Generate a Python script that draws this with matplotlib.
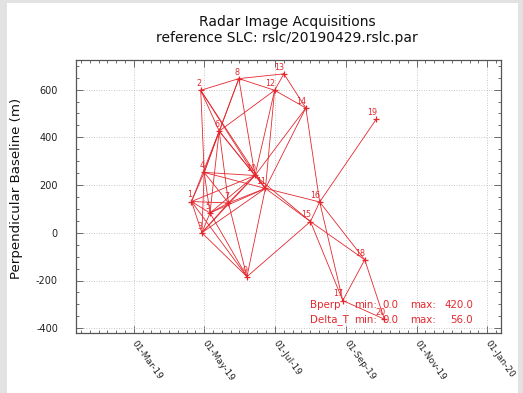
import matplotlib
matplotlib.use('Agg')
import matplotlib.pyplot as plt
import matplotlib.dates as mdates
from matplotlib.ticker import FixedLocator, MultipleLocator
from matplotlib.patches import Rectangle
import numpy as np

plt.rcParams['axes.unicode_minus'] = False

# ---- data ----
scene_ids = list(range(1, 21))
scene_dates = ['2019-04-20', '2019-04-28', '2019-04-29', '2019-05-01', '2019-05-06',
               '2019-05-14', '2019-05-22', '2019-05-31', '2019-06-07', '2019-06-14',
               '2019-06-23', '2019-07-01', '2019-07-09', '2019-07-28', '2019-08-01',
               '2019-08-09', '2019-08-29', '2019-09-17', '2019-09-27', '2019-10-04']
bperp = [131, 597, 0, 253, 83, 426, 125, 646, -184, 240,
         186, 597, 666, 523, 47, 129, -284, -113, 476, -362]
pairs = [(1, 3), (1, 4), (1, 5), (1, 6), (1, 7), (1, 9), (1, 10),
         (2, 4), (2, 6), (2, 8), (2, 10), (2, 11),
         (3, 4), (3, 5), (3, 7), (3, 9), (3, 10), (3, 11),
         (4, 5), (4, 6), (4, 7), (4, 8), (4, 10), (4, 11),
         (5, 6), (5, 7), (5, 9), (5, 10), (5, 11),
         (6, 7), (6, 8), (6, 10), (6, 11), (6, 12),
         (7, 9), (7, 10), (7, 11),
         (8, 10), (8, 12), (8, 13),
         (9, 11), (9, 15),
         (10, 11), (10, 12), (10, 14), (10, 15),
         (11, 12), (11, 14), (11, 15), (11, 16),
         (12, 13), (12, 14),
         (13, 14),
         (14, 16),
         (15, 16), (15, 17), (15, 18),
         (16, 17), (16, 18), (16, 19),
         (17, 18), (17, 20),
         (18, 20)]
xtick_dates = ['2019-03-01', '2019-05-01', '2019-07-01', '2019-09-01', '2019-11-01', '2020-01-01']
xtick_labels = ['01-Mar-19', '01-May-19', '01-Jul-19', '01-Sep-19', '01-Nov-19', '01-Jan-20']
yticks = [-400, -200, 0, 200, 400, 600]
xlim_dates = ['2019-01-10', '2020-01-13']
ylim = (-420, 724)
title_lines = ['Radar Image Acquisitions', 'reference SLC: rslc/20190429.rslc.par']
ylabel = 'Perpendicular Baseline (m)'
bperp_range = ('0.0', '420.0')
dt_range = ('0.0', '56.0')

RED = '#e4282e'
W, H = 523, 393

def num(d):
    return mdates.date2num(np.datetime64(d))

fig = plt.figure(figsize=(W / 100, H / 100), dpi=100, facecolor='#e2e2e2')
fig.patches.append(Rectangle((7 / W, 0), (518 - 7) / W, 1 - 3 / H,
                             transform=fig.transFigure, facecolor='white',
                             edgecolor='none', zorder=-5))

ax = fig.add_axes([76 / W, 1 - 333 / H, 425 / W, 273 / H])
ax.set_zorder(2)
ax.set_facecolor('white')

xs = [num(d) for d in scene_dates]
for i, j in pairs:
    ax.plot([xs[i - 1], xs[j - 1]], [bperp[i - 1], bperp[j - 1]],
            color=RED, lw=0.6, zorder=3)
ax.plot(xs, bperp, linestyle='none', marker='+', color=RED,
        markersize=4, mew=0.9, zorder=4)
for k, x, y in zip(scene_ids, xs, bperp):
    ax.annotate(str(k), (x, y), xytext=(0.5, 1.5), textcoords='offset points',
                ha='right', va='bottom', fontsize=5.8, color=RED, zorder=5)

xt = [num(d) for d in xtick_dates]
ax.set_xlim(num(xlim_dates[0]), num(xlim_dates[1]))
ax.set_ylim(*ylim)
ax.xaxis.set_major_locator(FixedLocator(xt))
ax.set_xticklabels(xtick_labels)
step = (xt[1] - xt[0]) / 8
minors = []
for a, b in zip(xt[:-1], xt[1:]):
    minors.extend(np.linspace(a, b, 9)[1:-1])
m = xt[0] - step
while m > ax.get_xlim()[0]:
    minors.append(m)
    m -= step
m = xt[-1] + step
while m < ax.get_xlim()[1]:
    minors.append(m)
    m += step
ax.xaxis.set_minor_locator(FixedLocator(minors))

ax.yaxis.set_major_locator(FixedLocator(yticks))
ax.yaxis.set_minor_locator(MultipleLocator(50))

ax.tick_params(which='both', direction='in', top=True, right=True,
               color='#555555', width=0.6)
ax.tick_params(which='major', length=5, labelsize=7, labelcolor='#222222')
ax.tick_params(which='minor', length=2.5)
ax.tick_params(axis='y', pad=13)
ax.tick_params(axis='x', pad=6, labelsize=6.5)
for lab in ax.get_xticklabels():
    lab.set_rotation(-54)
    lab.set_rotation_mode('anchor')
    lab.set_ha('left')
    lab.set_va('center')
ax.grid(True, which='major', linestyle=(0, (1, 2)), color='#b5b5b5', lw=0.6)
for s in ax.spines.values():
    s.set_color('#555555')
    s.set_linewidth(0.9)

fig.text(17 / W, 1 - 188 / H, ylabel, rotation=90, ha='center', va='center',
         fontsize=9.6, color='#111111')
fig.text(287 / W, 1 - 22 / H, title_lines[0], ha='center', va='center',
         fontsize=10, color='#111111')
fig.text(287 / W, 1 - 38 / H, title_lines[1], ha='center', va='center',
         fontsize=10, color='#111111')

# criteria text
rows = [('Bperp', bperp_range, 305), ('Delta_T', dt_range, 320)]
for name, (vmin, vmax), py in rows:
    yy = 1 - py / H
    fig.text(310 / W, yy, name, ha='left', va='center', fontsize=7.4, color=RED, zorder=6)
    fig.text(354 / W, yy, 'min:', ha='left', va='center', fontsize=7.4, color=RED, zorder=6)
    fig.text(398 / W, yy, vmin, ha='right', va='center', fontsize=7.4, color=RED, zorder=6)
    fig.text(410 / W, yy, 'max:', ha='left', va='center', fontsize=7.4, color=RED, zorder=6)
    fig.text(473 / W, yy, vmax, ha='right', va='center', fontsize=7.4, color=RED, zorder=6)

fig.savefig('out.png', dpi=100, facecolor=fig.get_facecolor())
